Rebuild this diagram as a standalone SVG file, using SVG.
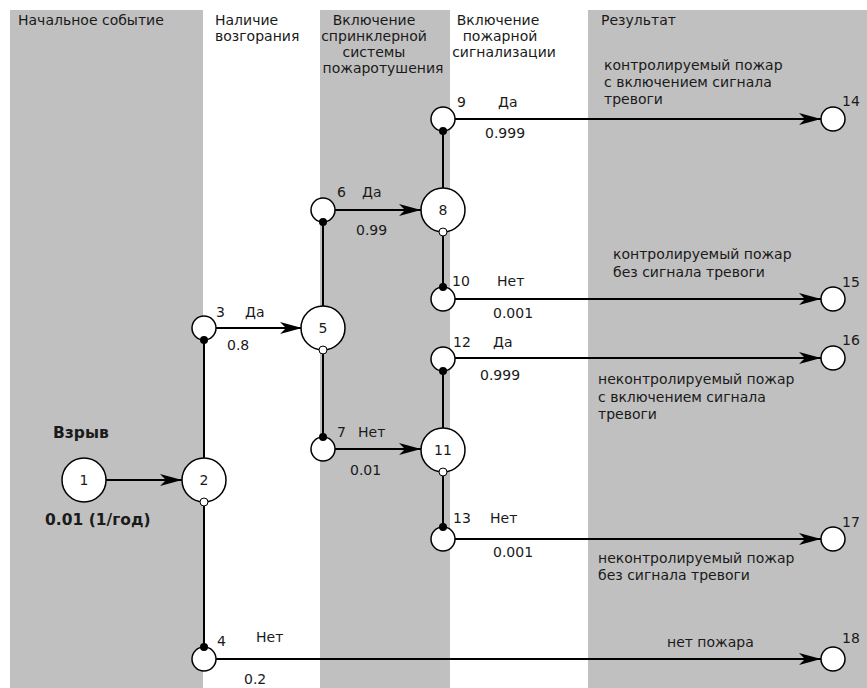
<svg xmlns="http://www.w3.org/2000/svg" width="867" height="688" viewBox="0 0 867 688">
<style>
.band{fill:#c0c0c0}
text{font-family:"DejaVu Sans","Liberation Sans",sans-serif;font-size:14px;fill:#1a1a1a}
.num{font-size:14px}
.mid{text-anchor:middle}
.b{font-weight:bold;font-size:15.5px}
.ln{stroke:#000;stroke-width:2;fill:none}
.big{fill:#fff;stroke:#000;stroke-width:1.5}
.sm{fill:#fff;stroke:#000;stroke-width:1.5}
.dot{fill:#000}
.od{fill:#fff;stroke:#000;stroke-width:1}
</style>
<defs>
<marker id="arr" markerUnits="userSpaceOnUse" markerWidth="24" markerHeight="14" refX="22" refY="7" orient="auto" viewBox="0 0 24 14">
<path d="M22,7 L0,1 L6,7 L0,13 Z" fill="#000"/>
</marker>
</defs>
<rect width="867" height="688" fill="#fff"/>
<g id="bands">
<rect class="band" x="10" y="10" width="193" height="678"/>
<rect class="band" x="320" y="10" width="130" height="678"/>
<rect class="band" x="588" y="10" width="279" height="678"/>
</g>
<g id="headers">
<text x="18" y="25">Начальное событие</text>
<text x="215" y="25">Наличие</text>
<text x="215" y="41">возгорания</text>
<text class="mid" x="374" y="25">Включение</text>
<text class="mid" x="374" y="41">спринклерной</text>
<text class="mid" x="374" y="57">системы</text>
<text class="mid" x="383" y="73">пожаротушения</text>
<text class="mid" x="498" y="25">Включение</text>
<text class="mid" x="500" y="41">пожарной</text>
<text class="mid" x="504" y="57">сигнализации</text>
<text x="601" y="25">Результат</text>
</g>
<g id="connectors">
<line class="ln" x1="106" y1="480" x2="182" y2="480" marker-end="url(#arr)"/>
<line class="ln" x1="204" y1="340" x2="204" y2="648"/>
<line class="ln" x1="216" y1="328" x2="302" y2="328" marker-end="url(#arr)"/>
<line class="ln" x1="323" y1="222" x2="323" y2="437"/>
<line class="ln" x1="335" y1="210" x2="421" y2="210" marker-end="url(#arr)"/>
<line class="ln" x1="335" y1="449" x2="421" y2="449" marker-end="url(#arr)"/>
<line class="ln" x1="443" y1="131" x2="443" y2="287"/>
<line class="ln" x1="443" y1="371" x2="443" y2="527"/>
<line class="ln" x1="455" y1="119" x2="821" y2="119" marker-end="url(#arr)"/>
<line class="ln" x1="455" y1="299" x2="821" y2="299" marker-end="url(#arr)"/>
<line class="ln" x1="455" y1="358" x2="821" y2="358" marker-end="url(#arr)"/>
<line class="ln" x1="455" y1="539" x2="821" y2="539" marker-end="url(#arr)"/>
<line class="ln" x1="216" y1="659" x2="821" y2="659" marker-end="url(#arr)"/>
</g>
<g id="n1"><circle class="big" cx="84" cy="480" r="22"/><text class="mid num" x="84" y="485">1</text>
<text class="b" x="53" y="438">Взрыв</text><text class="b" x="45" y="525">0.01 (1/год)</text></g>
<g id="n2"><circle class="big" cx="204" cy="480" r="22"/><text class="mid num" x="204" y="485">2</text><circle class="od" cx="204" cy="502" r="4"/></g>
<g id="n3"><circle class="sm" cx="204" cy="328" r="12"/><circle class="dot" cx="204" cy="340" r="4"/>
<text class="num" x="216" y="317">3</text><text x="245" y="317">Да</text><text class="num" x="227" y="350">0.8</text></g>
<g id="n4"><circle class="sm" cx="204" cy="659" r="12"/><circle class="dot" cx="204" cy="647" r="4"/>
<text class="num" x="217" y="646">4</text><text x="256" y="642">Нет</text><text class="num" x="244" y="684">0.2</text></g>
<g id="n5"><circle class="big" cx="323" cy="328" r="22"/><text class="mid num" x="323" y="333">5</text><circle class="od" cx="323" cy="350" r="4"/></g>
<g id="n6"><circle class="sm" cx="323" cy="210" r="12"/><circle class="dot" cx="323" cy="222" r="4"/>
<text class="num" x="337" y="197">6</text><text x="362" y="197">Да</text><text class="num" x="356" y="235">0.99</text></g>
<g id="n7"><circle class="sm" cx="323" cy="449" r="12"/><circle class="dot" cx="323" cy="437" r="4"/>
<text class="num" x="337" y="437">7</text><text x="358" y="437">Нет</text><text class="num" x="350" y="475">0.01</text></g>
<g id="n8"><circle class="big" cx="443" cy="210" r="22"/><text class="mid num" x="443" y="215">8</text><circle class="od" cx="443" cy="232" r="4"/></g>
<g id="n9"><circle class="sm" cx="443" cy="119" r="12"/><circle class="dot" cx="443" cy="131" r="4"/>
<text class="num" x="457" y="107">9</text><text x="498" y="107">Да</text><text class="num" x="485" y="138">0.999</text></g>
<g id="n10"><circle class="sm" cx="443" cy="299" r="12"/><circle class="dot" cx="443" cy="287" r="4"/>
<text class="num" x="452" y="286">10</text><text x="497" y="286">Нет</text><text class="num" x="493" y="318">0.001</text></g>
<g id="n11"><circle class="big" cx="443" cy="450" r="22"/><text class="mid num" x="443" y="455">11</text><circle class="od" cx="443" cy="472" r="4"/></g>
<g id="n12"><circle class="sm" cx="443" cy="359" r="12"/><circle class="dot" cx="443" cy="371" r="4"/>
<text class="num" x="453" y="347">12</text><text x="493" y="347">Да</text><text class="num" x="480" y="380">0.999</text></g>
<g id="n13"><circle class="sm" cx="443" cy="539" r="12"/><circle class="dot" cx="443" cy="527" r="4"/>
<text class="num" x="453" y="523">13</text><text x="490" y="523">Нет</text><text class="num" x="493" y="557">0.001</text></g>
<g id="n14"><circle class="sm" cx="833" cy="119" r="12"/><text class="num" x="842" y="106">14</text>
<text x="604" y="70">контролируемый пожар</text><text x="604" y="87">с включением сигнала</text><text x="604" y="104">тревоги</text></g>
<g id="n15"><circle class="sm" cx="833" cy="299" r="12"/><text class="num" x="842" y="287">15</text>
<text x="613" y="259">контролируемый пожар</text><text x="613" y="277">без сигнала тревоги</text></g>
<g id="n16"><circle class="sm" cx="833" cy="358" r="12"/><text class="num" x="842" y="345">16</text>
<text x="598" y="384">неконтролируемый пожар</text><text x="598" y="402">с включением сигнала</text><text x="598" y="419">тревоги</text></g>
<g id="n17"><circle class="sm" cx="833" cy="539" r="12"/><text class="num" x="842" y="527">17</text>
<text x="598" y="563">неконтролируемый пожар</text><text x="598" y="580">без сигнала тревоги</text></g>
<g id="n18"><circle class="sm" cx="833" cy="659" r="12"/><text class="num" x="842" y="643">18</text>
<text x="667" y="647">нет пожара</text></g>
</svg>
